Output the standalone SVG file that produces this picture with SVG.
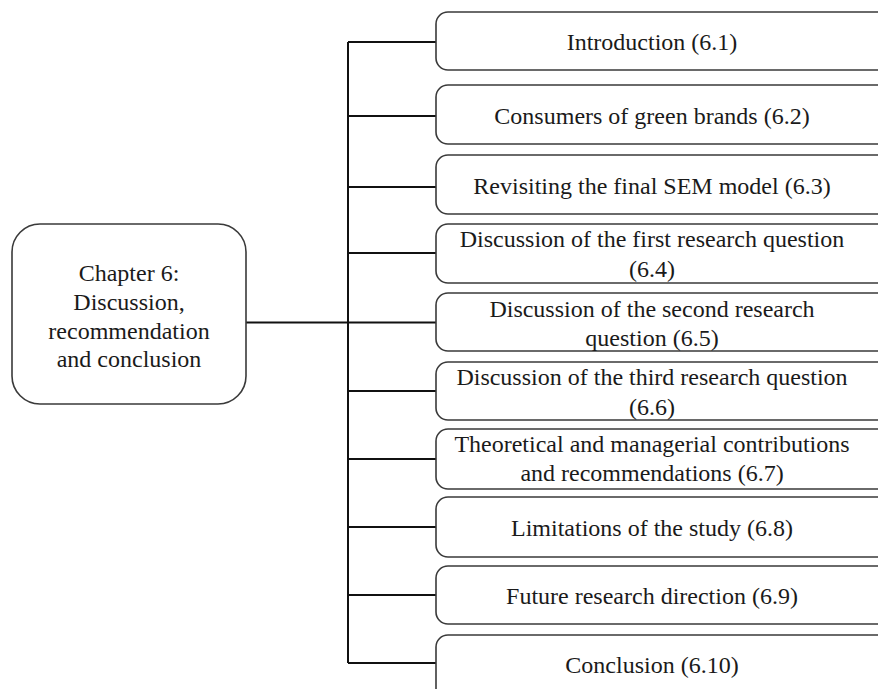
<svg xmlns="http://www.w3.org/2000/svg" width="878" height="689" viewBox="0 0 878 689">
<style>
.bg{fill:#ffffff}
.box{fill:#ffffff;stroke:#3a3a3a;stroke-width:1.6}
.t{font-family:"Liberation Serif","Times New Roman",serif;font-size:24px;fill:#1a1a1a;text-anchor:middle}
.c{fill:none;stroke:#111111;stroke-width:2}
</style>
<rect class="bg" x="0" y="0" width="878" height="689"/>
<g id="connectors">
<path class="c" d="M246 322.5 H348"/>
<path class="c" d="M348 42 V663"/>
<path class="c" d="M348 42 H436"/>
<path class="c" d="M348 116 H436"/>
<path class="c" d="M348 187 H436"/>
<path class="c" d="M348 253 H436"/>
<path class="c" d="M348 322.5 H436"/>
<path class="c" d="M348 391 H436"/>
<path class="c" d="M348 459 H436"/>
<path class="c" d="M348 527 H436"/>
<path class="c" d="M348 595 H436"/>
<path class="c" d="M348 663 H436"/>
</g>
<g id="chapter">
<rect class="box" x="12" y="224" width="234" height="180" rx="28"/>
<text class="t" x="129" y="281">Chapter 6:</text>
<text class="t" x="129" y="310">Discussion,</text>
<text class="t" x="129" y="339">recommendation</text>
<text class="t" x="129" y="367">and conclusion</text>
</g>
<g id="n61">
<rect class="box" x="436" y="12" width="460" height="58" rx="12"/>
<text class="t" x="652" y="50">Introduction (6.1)</text>
</g>
<g id="n62">
<rect class="box" x="436" y="85" width="460" height="59" rx="12"/>
<text class="t" x="652" y="124">Consumers of green brands (6.2)</text>
</g>
<g id="n63">
<rect class="box" x="436" y="155" width="460" height="59" rx="12"/>
<text class="t" x="652" y="194">Revisiting the final SEM model (6.3)</text>
</g>
<g id="n64">
<rect class="box" x="436" y="224" width="460" height="59" rx="12"/>
<text class="t" x="652" y="247">Discussion of the first research question</text>
<text class="t" x="652" y="277">(6.4)</text>
</g>
<g id="n65">
<rect class="box" x="436" y="293" width="460" height="58" rx="12"/>
<text class="t" x="652" y="317">Discussion of the second research</text>
<text class="t" x="652" y="346">question (6.5)</text>
</g>
<g id="n66">
<rect class="box" x="436" y="362" width="460" height="58" rx="12"/>
<text class="t" x="652" y="385">Discussion of the third research question</text>
<text class="t" x="652" y="415">(6.6)</text>
</g>
<g id="n67">
<rect class="box" x="436" y="429" width="460" height="60" rx="12"/>
<text class="t" x="652" y="452">Theoretical and managerial contributions</text>
<text class="t" x="652" y="481">and recommendations (6.7)</text>
</g>
<g id="n68">
<rect class="box" x="436" y="497" width="460" height="60" rx="12"/>
<text class="t" x="652" y="536">Limitations of the study (6.8)</text>
</g>
<g id="n69">
<rect class="box" x="436" y="566" width="460" height="58" rx="12"/>
<text class="t" x="652" y="604">Future research direction (6.9)</text>
</g>
<g id="n610">
<rect class="box" x="436" y="635" width="460" height="70" rx="12"/>
<text class="t" x="652" y="673">Conclusion (6.10)</text>
</g>
</svg>
